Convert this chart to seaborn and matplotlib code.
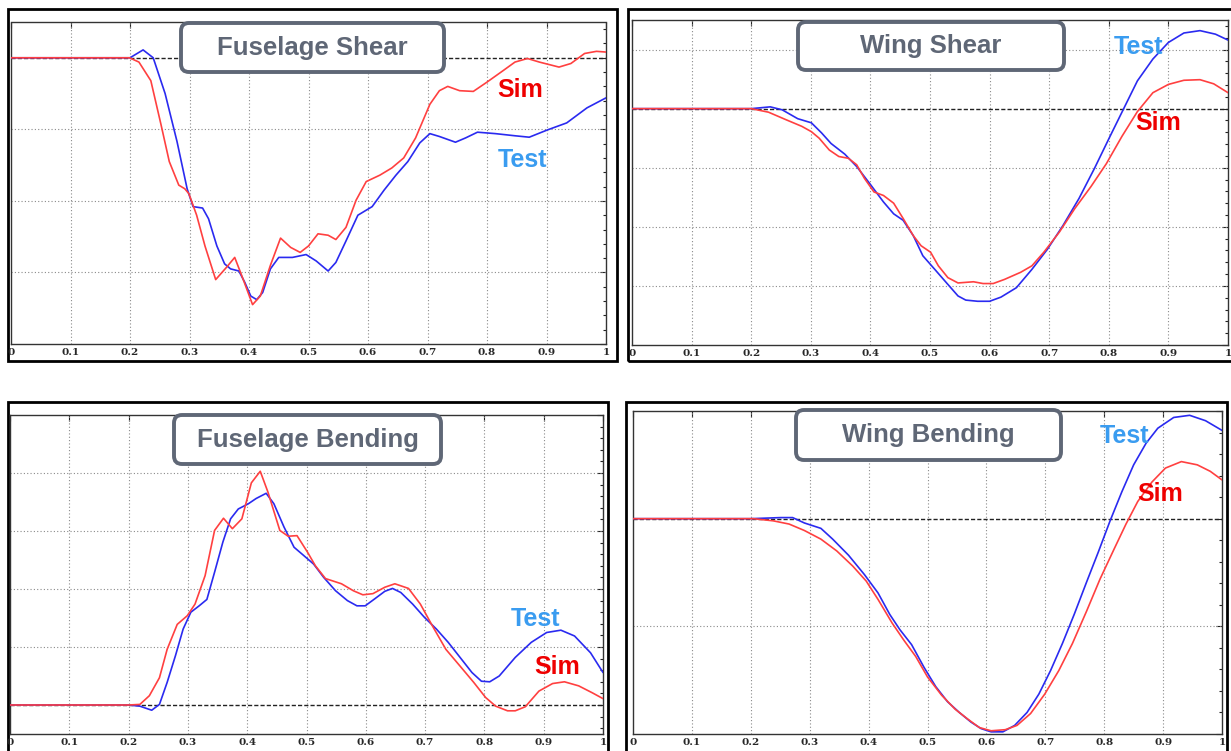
import numpy as np
import pandas as pd
import seaborn as sns
import matplotlib.pyplot as plt
from matplotlib.patches import Rectangle, FancyBboxPatch
from matplotlib.transforms import IdentityTransform
from matplotlib.ticker import MultipleLocator

# ---------------- data ----------------
# Fuselage shear
fs_test_x = [0, 0.1, 0.2, 0.21, 0.222, 0.239, 0.259, 0.279, 0.296, 0.306, 0.322, 0.332, 0.346, 0.359, 0.369,
             0.383, 0.393, 0.403, 0.413, 0.423, 0.436, 0.45, 0.473, 0.496, 0.513, 0.533, 0.546, 0.563, 0.583,
             0.607, 0.627, 0.647, 0.667, 0.687, 0.704, 0.72, 0.747, 0.764, 0.784, 0.814, 0.847, 0.871, 0.901,
             0.934, 0.968, 1.0]
fs_test_y = [0, 0, 0, 0.05, 0.11, 0.0, -0.5, -1.17, -1.83, -2.08, -2.1, -2.25, -2.63, -2.88, -2.95,
             -2.98, -3.14, -3.33, -3.38, -3.28, -2.95, -2.79, -2.79, -2.75, -2.84, -2.98, -2.86, -2.56, -2.2,
             -2.08, -1.85, -1.64, -1.45, -1.19, -1.06, -1.1, -1.18, -1.12, -1.04, -1.06, -1.09, -1.11, -1.01,
             -0.91, -0.7, -0.56]
fs_sim_x = [0, 0.1, 0.199, 0.215, 0.235, 0.252, 0.266, 0.282, 0.292, 0.299, 0.312, 0.326, 0.344, 0.362,
            0.376, 0.389, 0.406, 0.419, 0.436, 0.453, 0.47, 0.486, 0.5, 0.516, 0.533, 0.546, 0.563, 0.58,
            0.597, 0.62, 0.64, 0.66, 0.68, 0.704, 0.72, 0.734, 0.754, 0.777, 0.8, 0.827, 0.847, 0.868,
            0.888, 0.921, 0.941, 0.964, 0.984, 1.0]
fs_sim_y = [0, 0, 0, -0.06, -0.32, -0.93, -1.45, -1.78, -1.83, -1.9, -2.2, -2.63, -3.1, -2.93,
            -2.79, -3.07, -3.45, -3.33, -2.9, -2.52, -2.65, -2.72, -2.63, -2.46, -2.48, -2.54, -2.37, -1.99,
            -1.73, -1.64, -1.54, -1.4, -1.12, -0.65, -0.46, -0.4, -0.46, -0.47, -0.34, -0.18, -0.06, -0.01,
            -0.06, -0.13, -0.08, 0.06, 0.09, 0.08]

# Wing shear
ws_test_x = [0, 0.1, 0.2, 0.232, 0.252, 0.278, 0.301, 0.318, 0.334, 0.357, 0.377, 0.399, 0.422, 0.439,
             0.455, 0.472, 0.488, 0.508, 0.527, 0.547, 0.56, 0.58, 0.6, 0.619, 0.645, 0.671, 0.697, 0.723,
             0.75, 0.776, 0.802, 0.825, 0.848, 0.874, 0.9, 0.926, 0.953, 0.979, 1.0]
ws_test_y = [0, 0, 0, 0.03, -0.02, -0.17, -0.24, -0.41, -0.59, -0.77, -0.98, -1.27, -1.58, -1.78,
             -1.89, -2.15, -2.49, -2.72, -2.94, -3.17, -3.24, -3.26, -3.26, -3.19, -3.03, -2.72, -2.38, -1.98,
             -1.52, -1.01, -0.47, 0.0, 0.47, 0.84, 1.12, 1.28, 1.32, 1.26, 1.16]
ws_sim_x = [0, 0.1, 0.2, 0.229, 0.259, 0.285, 0.301, 0.314, 0.331, 0.347, 0.363, 0.377, 0.39, 0.406,
            0.422, 0.439, 0.455, 0.472, 0.485, 0.501, 0.514, 0.53, 0.547, 0.573, 0.589, 0.606, 0.625,
            0.652, 0.671, 0.691, 0.717, 0.743, 0.77, 0.796, 0.822, 0.848, 0.874, 0.9, 0.926, 0.953,
            0.976, 1.0]
ws_sim_y = [0, 0, 0, -0.06, -0.19, -0.3, -0.39, -0.5, -0.7, -0.81, -0.84, -0.95, -1.18, -1.41,
            -1.47, -1.6, -1.86, -2.15, -2.32, -2.43, -2.66, -2.86, -2.95, -2.93, -2.96, -2.96, -2.89,
            -2.77, -2.66, -2.43, -2.09, -1.69, -1.32, -0.93, -0.47, -0.05, 0.27, 0.41, 0.48, 0.49,
            0.42, 0.27]

# Fuselage bending
fb_test_x = [0, 0.1, 0.2, 0.219, 0.239, 0.252, 0.265, 0.279, 0.292, 0.305, 0.319, 0.332, 0.345, 0.359,
             0.372, 0.385, 0.402, 0.415, 0.432, 0.445, 0.462, 0.479, 0.495, 0.512, 0.529, 0.549, 0.569,
             0.585, 0.599, 0.615, 0.632, 0.645, 0.659, 0.679, 0.699, 0.719, 0.739, 0.759, 0.779, 0.795,
             0.809, 0.825, 0.852, 0.879, 0.905, 0.929, 0.952, 0.979, 1.0]
fb_test_y = [0, 0, 0, -0.02, -0.09, 0.01, 0.39, 0.85, 1.31, 1.6, 1.71, 1.82, 2.29, 2.81,
             3.21, 3.38, 3.47, 3.56, 3.65, 3.47, 3.07, 2.72, 2.58, 2.43, 2.2, 1.97, 1.8,
             1.71, 1.71, 1.83, 1.96, 2.01, 1.94, 1.74, 1.51, 1.31, 1.08, 0.82, 0.56, 0.41,
             0.4, 0.5, 0.82, 1.08, 1.25, 1.29, 1.19, 0.9, 0.56]
fb_sim_x = [0, 0.1, 0.2, 0.219, 0.235, 0.252, 0.265, 0.282, 0.299, 0.312, 0.329, 0.345, 0.36, 0.375,
            0.391, 0.407, 0.422, 0.435, 0.455, 0.469, 0.484, 0.502, 0.515, 0.532, 0.559, 0.579, 0.595,
            0.612, 0.632, 0.649, 0.672, 0.692, 0.712, 0.735, 0.759, 0.782, 0.802, 0.819, 0.839, 0.852,
            0.869, 0.892, 0.915, 0.935, 0.959, 0.982, 1.0]
fb_sim_y = [0, 0, 0, 0.01, 0.16, 0.47, 0.96, 1.39, 1.54, 1.74, 2.23, 3.01, 3.22, 3.04,
            3.21, 3.83, 4.03, 3.67, 3.01, 2.91, 2.92, 2.63, 2.4, 2.18, 2.09, 1.97, 1.9,
            1.92, 2.03, 2.09, 2.01, 1.74, 1.37, 0.96, 0.67, 0.39, 0.13, -0.02, -0.1, -0.1,
            -0.03, 0.24, 0.37, 0.4, 0.33, 0.21, 0.11]

# Wing bending
wb_test_x = [0, 0.1, 0.2, 0.251, 0.271, 0.291, 0.319, 0.339, 0.366, 0.393, 0.416, 0.436, 0.453, 0.473,
             0.494, 0.514, 0.534, 0.554, 0.574, 0.591, 0.608, 0.628, 0.648, 0.669, 0.689, 0.709, 0.729,
             0.749, 0.77, 0.79, 0.81, 0.83, 0.85, 0.871, 0.891, 0.918, 0.945, 0.972, 1.0]
wb_test_y = [0, 0, 0, 0.01, 0.01, -0.04, -0.09, -0.19, -0.34, -0.52, -0.69, -0.89, -1.03, -1.17,
             -1.38, -1.56, -1.7, -1.8, -1.89, -1.95, -1.98, -1.98, -1.92, -1.8, -1.63, -1.41, -1.16,
             -0.89, -0.59, -0.31, -0.02, 0.25, 0.5, 0.7, 0.84, 0.94, 0.96, 0.91, 0.82]
wb_sim_x = [0, 0.1, 0.204, 0.238, 0.265, 0.291, 0.319, 0.346, 0.373, 0.396, 0.416, 0.44, 0.46, 0.48,
            0.5, 0.524, 0.547, 0.568, 0.588, 0.608, 0.632, 0.652, 0.675, 0.699, 0.723, 0.746, 0.77,
            0.793, 0.817, 0.837, 0.857, 0.881, 0.904, 0.931, 0.958, 0.98, 1.0]
wb_sim_y = [0, 0, 0, -0.02, -0.05, -0.11, -0.19, -0.3, -0.44, -0.58, -0.75, -0.97, -1.13, -1.28,
            -1.47, -1.64, -1.77, -1.86, -1.94, -1.97, -1.96, -1.92, -1.81, -1.63, -1.41, -1.16, -0.86,
            -0.56, -0.28, -0.05, 0.16, 0.34, 0.47, 0.53, 0.5, 0.44, 0.36]

titles = ["Fuselage Shear", "Wing Shear", "Fuselage Bending", "Wing Bending"]
x_ticks = [0, 0.1, 0.2, 0.3, 0.4, 0.5, 0.6, 0.7, 0.8, 0.9, 1.0]
x_tick_labels = ["0", "0.1", "0.2", "0.3", "0.4", "0.5", "0.6", "0.7", "0.8", "0.9", "1"]

# ---------------- layout (pixels, measured from the top-left corner) ----------------
W, H = 1231, 751
panels = [
    dict(title=titles[0], test=(fs_test_x, fs_test_y), sim=(fs_sim_x, fs_sim_y),
         axes=(11, 22, 606, 344), frame=(8, 9, 617, 361), ylim=(-4, 0.5), grid_y=[-3, -2, -1],
         box=(181, 23, 444, 72), test_lbl=(0.859, -1.43), sim_lbl=(0.855, -0.45)),
    dict(title=titles[1], test=(ws_test_x, ws_test_y), sim=(ws_sim_x, ws_sim_y),
         axes=(632, 20, 1228, 345), frame=(628, 9, 1234, 361), ylim=(-4, 1.5), grid_y=[-3, -2, -1, 1],
         box=(798, 22, 1064, 70), test_lbl=(0.849, 1.05), sim_lbl=(0.883, -0.24)),
    dict(title=titles[2], test=(fb_test_x, fb_test_y), sim=(fb_sim_x, fb_sim_y),
         axes=(10, 415, 603, 734), frame=(8, 402, 608, 756), ylim=(-0.5, 5), grid_y=[1, 2, 3, 4],
         box=(174, 415, 441, 464), test_lbl=(0.887, 1.48), sim_lbl=(0.922, 0.66)),
    dict(title=titles[3], test=(wb_test_x, wb_test_y), sim=(wb_sim_x, wb_sim_y),
         axes=(633, 411, 1222, 734), frame=(626, 402, 1227, 756), ylim=(-2, 1), grid_y=[-1],
         box=(796, 410, 1061, 460), test_lbl=(0.834, 0.77), sim_lbl=(0.895, 0.23)),
]

sns.set_style("white")
plt.rcParams["font.family"] = ["Liberation Sans", "DejaVu Sans"]

TEST_LINE = "#2a2af0"
SIM_LINE = "#ff4040"
TEST_TXT = "#3a9cf0"
SIM_TXT = "#ee0000"
BOX_GRAY = "#5f6776"

fig = plt.figure(figsize=(W / 100, H / 100), dpi=100)
fig.patch.set_facecolor("white")


def fig_rect(l, t, r, b):
    return [l / W, 1 - b / H, (r - l) / W, (b - t) / H]


for p in panels:
    # black outer frame around each panel
    fl, ft, fr, fb = p["frame"]
    fig.add_artist(Rectangle((fl, H - fb), fr - fl, fb - ft, transform=IdentityTransform(),
                             fill=False, edgecolor="black", linewidth=2.0, zorder=0))

    ax = fig.add_axes(fig_rect(*p["axes"]))
    df = pd.concat([
        pd.DataFrame({"t": p["test"][0], "v": p["test"][1], "series": "Test"}),
        pd.DataFrame({"t": p["sim"][0], "v": p["sim"][1], "series": "Sim"}),
    ], ignore_index=True)
    sns.lineplot(data=df, x="t", y="v", hue="series", palette={"Test": TEST_LINE, "Sim": SIM_LINE},
                 estimator=None, sort=False, legend=False, linewidth=1.2, ax=ax, zorder=3)

    ax.set_xlim(0, 1)
    ax.set_ylim(*p["ylim"])
    ax.set_xlabel("")
    ax.set_ylabel("")

    # dotted grid and dashed zero line
    for gx in x_ticks[1:-1]:
        ax.axvline(gx, color="#8a8a8a", linestyle=(0, (1, 2)), linewidth=0.8, zorder=1)
    for gy in p["grid_y"]:
        ax.axhline(gy, color="#8a8a8a", linestyle=(0, (1, 2)), linewidth=0.8, zorder=1)
    ax.axhline(0, color="#222222", linestyle=(0, (3, 1.5)), linewidth=1.0, zorder=2)

    ax.set_xticks(x_ticks)
    ax.set_xticklabels(x_tick_labels)
    ax.yaxis.set_major_locator(MultipleLocator(1))
    ax.yaxis.set_minor_locator(MultipleLocator(0.2))
    ax.tick_params(axis="both", which="both", direction="in", top=True, right=True,
                   labelleft=False, color="#222222")
    ax.tick_params(axis="both", which="major", length=4, width=0.8)
    ax.tick_params(axis="both", which="minor", length=2.5, width=0.8)
    ax.tick_params(axis="x", pad=3, labelsize=7.5)
    for lbl in ax.get_xticklabels():
        lbl.set_fontfamily("DejaVu Serif")
        lbl.set_fontweight("bold")

    for sp in ax.spines.values():
        sp.set_linestyle((0, (3, 1)))
        sp.set_linewidth(1.0)
        sp.set_color("#333333")
        sp.set_visible(True)

    # rounded title box
    bl, bt, br, bb = p["box"]
    fig.add_artist(FancyBboxPatch((bl + 6, H - bb + 6), br - bl - 12, bb - bt - 12,
                                  boxstyle="round,pad=6,rounding_size=8",
                                  transform=IdentityTransform(), facecolor="white",
                                  edgecolor=BOX_GRAY, linewidth=2.8, zorder=5))
    fig.text((bl + br) / 2 / W, 1 - (bt + bb) / 2 / H, p["title"], ha="center", va="center",
             fontsize=18.5, fontweight="bold", color=BOX_GRAY, zorder=6)

    ax.text(*p["test_lbl"], "Test", color=TEST_TXT, fontsize=18, fontweight="bold",
            ha="center", va="center", zorder=6)
    ax.text(*p["sim_lbl"], "Sim", color=SIM_TXT, fontsize=18, fontweight="bold",
            ha="center", va="center", zorder=6)

fig.savefig("out.png", dpi=100)
